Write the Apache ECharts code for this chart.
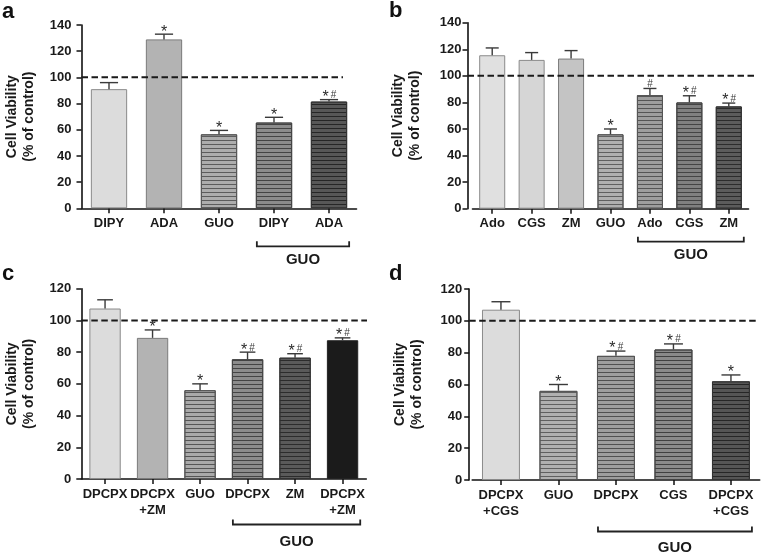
<!DOCTYPE html>
<html><head><meta charset="utf-8">
<script src="https://cdn.jsdelivr.net/npm/echarts@6/dist/echarts.min.js"></script>
<style>html,body{margin:0;padding:0;background:#fff}#c{width:761px;height:556px}</style>
</head><body><div id="c"></div>
<script>
// ---------- DATA ----------
// Panel a
const catsA = ['DIPY', 'ADA', 'GUO', 'DIPY', 'ADA'];
const valsA = [91, 129, 56.5, 65.5, 81.5];
const errA  = [5, 4, 3, 4, 1.5];
const sigA  = ['', '*', '*', '*', '*#'];
const groupA = { label: 'GUO', from: 3, to: 4 };
// Panel b
const catsB = ['Ado', 'CGS', 'ZM', 'GUO', 'Ado', 'CGS', 'ZM'];
const valsB = [115.5, 112, 113, 56, 85.5, 80, 77];
const errB  = [5.5, 5.5, 6, 4, 5, 5, 2.5];
const sigB  = ['', '', '', '*', '#', '*#', '*#'];
const groupB = { label: 'GUO', from: 4, to: 6 };
// Panel c
const catsC = ['DPCPX', 'DPCPX\n+ZM', 'GUO', 'DPCPX', 'ZM', 'DPCPX\n+ZM'];
const valsC = [107.5, 89, 56, 75.5, 76.5, 87.5];
const errC  = [5.5, 5, 4, 4.5, 2.5, 1.5];
const sigC  = ['', '*', '*', '*#', '*#', '*#'];
const groupC = { label: 'GUO', from: 3, to: 5 };
// Panel d
const catsD = ['DPCPX\n+CGS', 'GUO', 'DPCPX', 'CGS', 'DPCPX\n+CGS'];
const valsD = [107, 56, 78, 82, 62];
const errD  = [5, 4, 3, 3.5, 4];
const sigD  = ['', '*', '*#', '*#', '*'];
const groupD = { label: 'GUO', from: 2, to: 4 };
// Axes
const yMaxTop = 140, yMaxBottom = 120, yStep = 20;
const refValue = 100;
const panelLetters = ['a', 'b', 'c', 'd'];
const yTitle = 'Cell Viability\n(% of control)';

// ---------- STYLE ----------
const fillsA   = ['#dcdcdc', '#b3b3b3', '#adadad', '#8c8c8c', '#575757'];
const stripesA = [null, null, '#5c5c5c', '#444444', '#262626'];
const bordersA = ['#8a8a8a', '#7a7a7a', '#555', '#444', '#333'];
const fillsB   = ['#e0e0e0', '#d6d6d6', '#c4c4c4', '#b0b0b0', '#9e9e9e', '#808080', '#5c5c5c'];
const stripesB = [null, null, null, '#606060', '#555555', '#444444', '#2c2c2c'];
const bordersB = ['#8a8a8a', '#8a8a8a', '#7a7a7a', '#555', '#555', '#444', '#333'];
const fillsC   = ['#dcdcdc', '#b3b3b3', '#a9a9a9', '#8c8c8c', '#5a5a5a', '#1b1b1b'];
const stripesC = [null, null, '#555555', '#444444', '#2c2c2c', null];
const bordersC = ['#8a8a8a', '#7a7a7a', '#555', '#444', '#333', '#222'];
const fillsD   = ['#dcdcdc', '#b0b0b0', '#9e9e9e', '#8a8a8a', '#555555'];
const stripesD = [null, '#606060', '#505050', '#404040', '#262626'];
const bordersD = ['#8a8a8a', '#555', '#555', '#444', '#333'];

const FONT = '"Liberation Sans", Arial, Helvetica, sans-serif';

const layouts = [
  { grid: { left: 81.5, top: 25, width: 275, height: 183.3 }, yOffset: 0, labelMargin: 10, refEndX: 343, bracketDy: 38, guoDy: 52, letterXY: [2, 1] },
  { grid: { left: 472.5, top: 22.7, width: 276, height: 186 }, yOffset: 5, labelMargin: 6, refEndX: 757, bracketDy: 33, guoDy: 46.5, letterXY: [389, 0] },
  { grid: { left: 81.3, top: 288.7, width: 285, height: 190.3 }, yOffset: 0, labelMargin: 10, refEndX: 367, bracketDy: 45.5, guoDy: 63, letterXY: [2, 263] },
  { grid: { left: 472.2, top: 289, width: 287.5, height: 191 }, yOffset: 3, labelMargin: 7, refEndX: 757, bracketDy: 51.5, guoDy: 68, letterXY: [389, 263] }
];

const panels = [
  { cats: catsA, vals: valsA, errs: errA, sig: sigA, group: groupA, max: yMaxTop, fills: fillsA, stripes: stripesA, borders: bordersA },
  { cats: catsB, vals: valsB, errs: errB, sig: sigB, group: groupB, max: yMaxTop, fills: fillsB, stripes: stripesB, borders: bordersB },
  { cats: catsC, vals: valsC, errs: errC, sig: sigC, group: groupC, max: yMaxBottom, fills: fillsC, stripes: stripesC, borders: bordersC },
  { cats: catsD, vals: valsD, errs: errD, sig: sigD, group: groupD, max: yMaxBottom, fills: fillsD, stripes: stripesD, borders: bordersD }
];

const BAR_FRAC = 0.66;

const chart = echarts.init(document.getElementById('c'), null, { renderer: 'canvas' });

const grids = [], xAxes = [], yAxes = [], series = [];
panels.forEach((p, k) => {
  const L = layouts[k];
  grids.push(Object.assign({ outerBoundsMode: 'none', containLabel: false }, L.grid));
  xAxes.push({
    type: 'category', gridIndex: k, data: p.cats,
    axisLine: { lineStyle: { color: '#111', width: 1.6 } },
    axisTick: { show: true, alignWithLabel: true, length: 5, lineStyle: { color: '#111', width: 1.5 } },
    axisLabel: { interval: 0, margin: 7, color: '#1a1a1a', fontFamily: FONT, fontWeight: 'bold', fontSize: 13, lineHeight: 16 },
    splitLine: { show: false }
  });
  yAxes.push({
    type: 'value', gridIndex: k, min: 0, max: p.max, interval: yStep, offset: L.yOffset,
    axisLine: { show: true, lineStyle: { color: '#111', width: 1.6 } },
    axisTick: { show: true, length: 5, lineStyle: { color: '#111', width: 1.5 } },
    axisLabel: { margin: L.labelMargin, color: '#1a1a1a', fontFamily: FONT, fontWeight: 'bold', fontSize: 13 },
    splitLine: { show: false },
    name: yTitle, nameLocation: 'middle', nameGap: 44,
    nameTextStyle: { color: '#1a1a1a', fontFamily: FONT, fontWeight: 'bold', fontSize: 14, lineHeight: 17 }
  });
  series.push({
    type: 'bar', xAxisIndex: k, yAxisIndex: k, barWidth: (BAR_FRAC * 100) + '%', silent: true,
    data: p.vals.map((v, i) => {
      const st = { color: p.fills[i], borderColor: p.borders[i], borderWidth: 1 };
      if (p.stripes[i]) {
        st.decal = { symbol: 'rect', symbolSize: 1, dashArrayX: [1, 0], dashArrayY: [1, 3], rotation: 0, color: p.stripes[i] };
      }
      return { value: v, itemStyle: st };
    })
  });
  series.push({
    type: 'custom', xAxisIndex: k, yAxisIndex: k, silent: true, z: 5,
    data: p.vals.map((v, i) => [i, v, p.errs[i]]),
    encode: { x: 0, y: 1 },
    renderItem: function (params, api) {
      const i = api.value(0), v = api.value(1), e = api.value(2);
      const top = api.coord([i, v]);
      const cap = api.coord([i, v + e]);
      const bw = api.size([1, 0])[0] * BAR_FRAC;
      const hw = bw * 0.25;
      const ls = { stroke: '#3a3a3a', lineWidth: 1.4 };
      const children = [
        { type: 'line', shape: { x1: top[0], y1: top[1], x2: cap[0], y2: cap[1] }, style: ls },
        { type: 'line', shape: { x1: cap[0] - hw, y1: cap[1], x2: cap[0] + hw, y2: cap[1] }, style: ls }
      ];
      const s = p.sig[params.dataIndex];
      const hasStar = s.indexOf('*') >= 0, hasHash = s.indexOf('#') >= 0;
      if (hasStar) {
        children.push({ type: 'text', style: { text: '*', x: cap[0] - (hasHash ? 3.5 : 0), y: cap[1] - 2, align: 'center', verticalAlign: 'middle', font: '16px ' + FONT, fill: '#2a2a2a' } });
      }
      if (hasHash) {
        children.push({ type: 'text', style: { text: '#', x: cap[0] + (hasStar ? 4.5 : 0), y: cap[1] - 4.3, align: 'center', verticalAlign: 'middle', font: '10px ' + FONT, fill: '#3a3a3a' } });
      }
      return { type: 'group', children: children };
    }
  });
});

chart.setOption({
  animation: false,
  backgroundColor: '#fff',
  grid: grids, xAxis: xAxes, yAxis: yAxes, series: series
});

// Decorations placed through the axes' own scales
const graphics = [];
panels.forEach((p, k) => {
  const L = layouts[k];
  const yRef = chart.convertToPixel({ yAxisIndex: k }, refValue);
  const y0 = chart.convertToPixel({ yAxisIndex: k }, 0);
  const axisX = L.grid.left - L.yOffset;
  graphics.push({ type: 'line', silent: true, z: 10,
    shape: { x1: axisX, y1: yRef, x2: L.refEndX, y2: yRef },
    style: { stroke: '#1a1a1a', lineWidth: 2, lineDash: [6.5, 3.5] } });
  const c0 = chart.convertToPixel({ xAxisIndex: k }, p.group.from);
  const c1 = chart.convertToPixel({ xAxisIndex: k }, p.group.to);
  const band = L.grid.width / p.cats.length;
  const hb = band * BAR_FRAC / 2;
  const bx0 = c0 - hb + 1, bx1 = c1 + hb + 2;
  const by = y0 + L.bracketDy;
  graphics.push({ type: 'polyline', silent: true,
    shape: { points: [[bx0, by - 5], [bx0, by], [bx1, by], [bx1, by - 5]] },
    style: { stroke: '#222', lineWidth: 1.8, fill: null } });
  graphics.push({ type: 'text', silent: true,
    style: { text: p.group.label, x: (bx0 + bx1) / 2, y: y0 + L.guoDy, align: 'center', verticalAlign: 'middle',
      font: 'bold 15px ' + FONT, fill: '#1a1a1a' } });
  graphics.push({ type: 'text', silent: true,
    style: { text: panelLetters[k], x: L.letterXY[0], y: L.letterXY[1], align: 'left', verticalAlign: 'top',
      font: 'bold 22px ' + FONT, fill: '#111' } });
});
chart.setOption({ graphic: graphics });
</script>
</body></html>
